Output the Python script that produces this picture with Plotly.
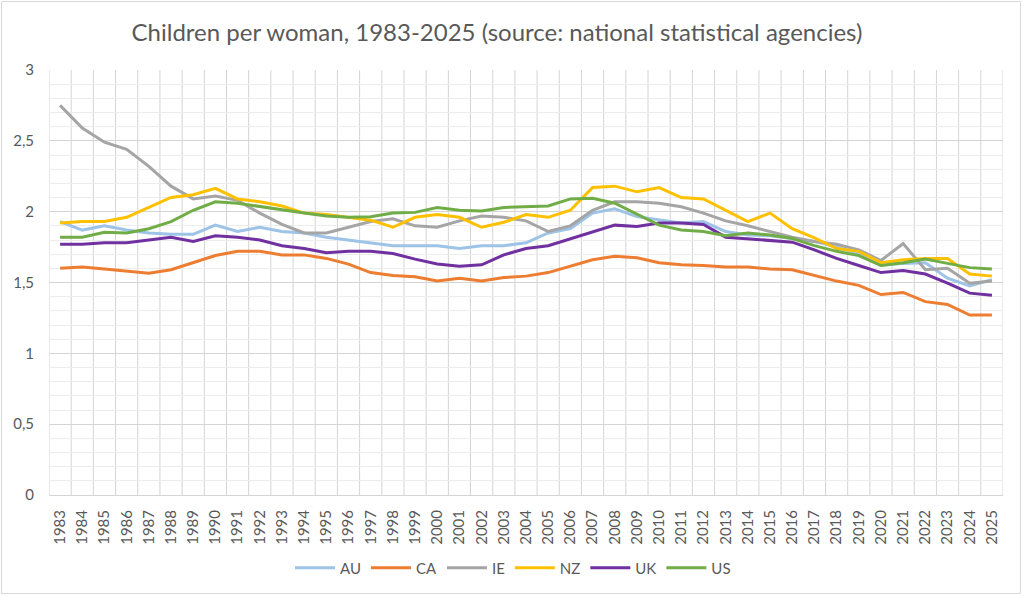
import plotly.graph_objects as go

years = list(range(1983, 2026))

au = [1.93, 1.87, 1.90, 1.87, 1.85, 1.84, 1.84, 1.905, 1.86, 1.89, 1.86, 1.85, 1.82, 1.80, 1.78,
      1.76, 1.76, 1.76, 1.74, 1.76, 1.76, 1.78, 1.85, 1.88, 1.99, 2.02, 1.965, 1.94, 1.92,
      1.93, 1.86, 1.835, 1.83, 1.81, 1.79, 1.75, 1.705, 1.62, 1.635, 1.64, 1.53, 1.475, 1.52]
ca = [1.60, 1.61, 1.595, 1.58, 1.565, 1.59, 1.64, 1.69, 1.72, 1.72, 1.695, 1.695, 1.67, 1.63, 1.57,
      1.55, 1.54, 1.51, 1.53, 1.51, 1.535, 1.545, 1.57, 1.615, 1.66, 1.685, 1.675, 1.64, 1.625,
      1.62, 1.61, 1.61, 1.595, 1.59, 1.55, 1.51, 1.48, 1.415, 1.43, 1.365, 1.345, 1.27, 1.27]
ie = [2.75, 2.59, 2.49, 2.44, 2.32, 2.18, 2.09, 2.11, 2.08, 1.99, 1.91, 1.85, 1.85, 1.89, 1.93,
      1.95, 1.90, 1.89, 1.935, 1.97, 1.96, 1.935, 1.86, 1.90, 2.01, 2.07, 2.07, 2.06, 2.035,
      1.99, 1.935, 1.90, 1.86, 1.82, 1.79, 1.77, 1.73, 1.655, 1.775, 1.59, 1.60, 1.495, 1.51]
nz = [1.92, 1.93, 1.93, 1.96, 2.03, 2.10, 2.12, 2.165, 2.09, 2.07, 2.04, 1.99, 1.98, 1.96, 1.94,
      1.89, 1.96, 1.98, 1.96, 1.89, 1.925, 1.98, 1.96, 2.01, 2.17, 2.18, 2.14, 2.17, 2.10,
      2.09, 2.01, 1.93, 1.99, 1.88, 1.815, 1.74, 1.72, 1.64, 1.66, 1.67, 1.67, 1.56, 1.545]
uk = [1.77, 1.77, 1.78, 1.78, 1.80, 1.82, 1.79, 1.83, 1.82, 1.80, 1.76, 1.74, 1.71, 1.72, 1.72,
      1.705, 1.665, 1.63, 1.615, 1.625, 1.695, 1.74, 1.76, 1.81, 1.86, 1.905, 1.895, 1.92, 1.92,
      1.91, 1.82, 1.81, 1.795, 1.785, 1.73, 1.67, 1.62, 1.57, 1.585, 1.56, 1.495, 1.425, 1.41]
us = [1.82, 1.82, 1.855, 1.85, 1.88, 1.93, 2.01, 2.07, 2.06, 2.035, 2.01, 1.99, 1.97, 1.96, 1.965,
      1.99, 1.995, 2.03, 2.01, 2.005, 2.03, 2.035, 2.04, 2.09, 2.095, 2.06, 1.98, 1.905, 1.87,
      1.86, 1.83, 1.85, 1.835, 1.81, 1.76, 1.72, 1.69, 1.62, 1.64, 1.665, 1.635, 1.605, 1.595]

series = [
    ('AU', au, '#9DC3E6'),
    ('CA', ca, '#ED7D31'),
    ('IE', ie, '#A5A5A5'),
    ('NZ', nz, '#FFC000'),
    ('UK', uk, '#7030A0'),
    ('US', us, '#70AD47'),
]

FONT = 'Lato'
TXT = '#595959'
GRID = '#D4D4D4'

fig = go.Figure()
for name, vals, color in series:
    fig.add_trace(go.Scatter(
        x=years, y=vals, mode='lines', name=name,
        line=dict(color=color, width=3),
    ))

# plot area in pixels: x 49..1003, y 70..495
W, H = 1024, 596
L, R, T, B = 49, 21, 70, 101
pw, ph = W - L - R, H - T - B


def px_x(px):
    return (px - L) / pw


def px_y(py):
    return (H - B - py) / ph


# category boundaries (Excel draws vertical grid between categories)
shapes = [dict(type='line', xref='x', yref='y', x0=y - 0.5, x1=y - 0.5, y0=0, y1=3,
               line=dict(color=GRID, width=1), layer='below')
          for y in years + [years[-1] + 1]]
# outer chart border
shapes.append(dict(
    type='rect', xref='paper', yref='paper',
    x0=px_x(1.5), x1=px_x(1020.5), y0=px_y(593.5), y1=px_y(1.5),
    line=dict(color='#D9D9D9', width=1), fillcolor='rgba(0,0,0,0)', layer='above',
))

fig.update_layout(
    width=W, height=H,
    margin=dict(l=L, r=R, t=T, b=B, autoexpand=False),
    paper_bgcolor='white', plot_bgcolor='white',
    separators=', ',
    font=dict(family=FONT, color=TXT, size=14),
    title=dict(
        text='Children per woman, 1983-2025 (source: national statistical agencies)',
        x=px_x(512), xanchor='center', y=1 - 33 / H, yanchor='middle',
        font=dict(size=24, color=TXT, family=FONT),
    ),
    showlegend=True,
    legend=dict(
        orientation='h', x=px_x(513), xanchor='center', y=px_y(568), yanchor='middle',
        font=dict(size=15, color=TXT), itemwidth=40, traceorder='normal',
    ),
    shapes=shapes,
)

fig.update_xaxes(
    range=[1982.5, 2025.5],
    tickmode='array', tickvals=years, ticktext=[str(y) for y in years],
    tickangle=-90, tickfont=dict(size=15, color=TXT),
    showgrid=False, zeroline=False,
    showline=True, linecolor=GRID, linewidth=1,
    ticks='', ticklabelstandoff=8,
)
fig.update_yaxes(
    range=[0, 3], tick0=0, dtick=0.5,
    tickfont=dict(size=15, color=TXT),
    showgrid=True, gridcolor=GRID, gridwidth=1,
    zeroline=False, showline=False, ticks='', ticklabelstandoff=14,
    minor=dict(dtick=0.1, showgrid=True, gridcolor='#ECECEC', gridwidth=1),
)

fig.write_html("out.html", config={'displayModeBar': False},
               post_script="document.body.style.margin='0';")
